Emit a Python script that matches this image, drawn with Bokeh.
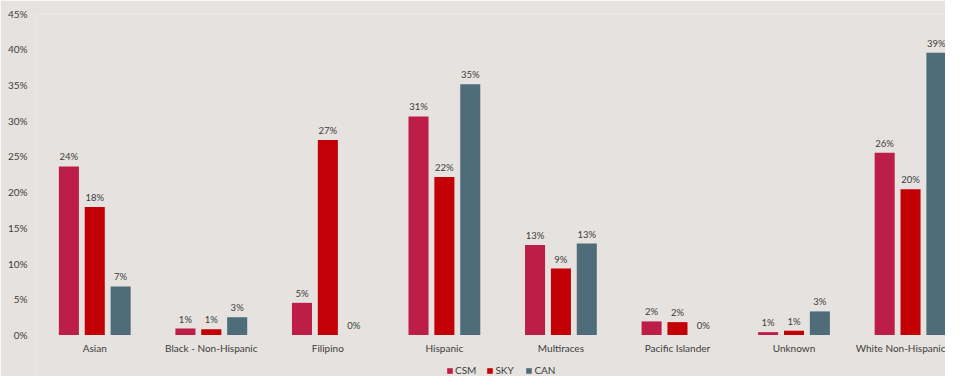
from bokeh.plotting import figure
from bokeh.models import ColumnDataSource, Range1d, FixedTicker, Legend, LegendItem, PrintfTickFormatter
from bokeh.transform import dodge
from bokeh.embed import file_html
from bokeh.resources import INLINE
from bokeh.core.properties import value

categories = ["Asian", "Black - Non-Hispanic", "Filipino", "Hispanic",
              "Multiraces", "Pacific Islander", "Unknown", "White Non-Hispanic"]
csm = [23.6, 0.9, 4.5, 30.6, 12.6, 1.9, 0.4, 25.5]
sky = [17.9, 0.8, 27.3, 22.1, 9.3, 1.8, 0.6, 20.4]
can = [6.8, 2.5, 0.0, 35.1, 12.8, 0.0, 3.3, 39.5]
csm_labels = ["24%", "1%", "5%", "31%", "13%", "2%", "1%", "26%"]
sky_labels = ["18%", "1%", "27%", "22%", "9%", "2%", "1%", "20%"]
can_labels = ["7%", "3%", "0%", "35%", "13%", "0%", "3%", "39%"]
y_ticks = [0, 5, 10, 15, 20, 25, 30, 35, 40, 45]
series_names = ["CSM", "SKY", "CAN"]
colors = ["#BC1E47", "#C20006", "#4E6C7A"]

FONT = "Lato"
TXT = "#3d3d3d"
BG = "#E5E2DF"

pos = [i + 0.5 for i in range(len(categories))]
src = ColumnDataSource(dict(x=pos, csm=csm, sky=sky, can=can,
                            csm_l=csm_labels, sky_l=sky_labels, can_l=can_labels))

p = figure(width=945, height=376, output_backend="svg", toolbar_location=None,
           x_range=Range1d(0, 7.80), y_range=Range1d(-5.81, 45),
           min_border_left=36, min_border_right=0, min_border_top=13, min_border_bottom=0,
           background_fill_color=BG, border_fill_color=BG, outline_line_color=None)

p.xgrid.grid_line_color = None
p.ygrid.grid_line_color = None

offs = [-0.222, 0.0, 0.222]
fields = ["csm", "sky", "can"]
renderers = []
for f, o, c in zip(fields, offs, colors):
    r = p.vbar(x=dodge("x", o, range=p.x_range), top=f, bottom=0, width=0.172, source=src,
               fill_color=c, line_color=None)
    renderers.append(r)
    p.text(x=dodge("x", o, range=p.x_range), y=f, text=f + "_l", source=src,
           text_font=value(FONT), text_font_size="9.5px", text_color=TXT,
           text_align="center", text_baseline="bottom", y_offset=-4)

p.xaxis.ticker = FixedTicker(ticks=pos)
p.xaxis.major_label_overrides = {x: c for x, c in zip(pos, categories)}
p.xaxis.fixed_location = 0
p.yaxis.ticker = FixedTicker(ticks=y_ticks)
p.yaxis.formatter = PrintfTickFormatter(format="%d%%")
for ax in (p.xaxis, p.yaxis):
    ax.axis_line_color = None
    ax.major_tick_line_color = None
    ax.major_tick_out = 0
    ax.major_tick_in = 0
    ax.minor_tick_line_color = None
    ax.minor_tick_out = 0
    ax.major_label_text_font = FONT
    ax.major_label_text_font_size = "10px"
    ax.major_label_text_color = TXT
p.xaxis.major_label_standoff = 7
p.yaxis.major_label_standoff = 9

legend = Legend(items=[LegendItem(label=n, renderers=[r]) for n, r in zip(series_names, renderers)],
                orientation="horizontal", location=(410, 0),
                background_fill_alpha=0, border_line_color=None,
                glyph_width=7, glyph_height=7, label_standoff=2, spacing=10,
                padding=0, margin=0, label_height=10,
                label_text_font=FONT, label_text_font_size="10px", label_text_color=TXT)
p.add_layout(legend, "center")

open("out.html", "w").write(file_html(p, INLINE))
